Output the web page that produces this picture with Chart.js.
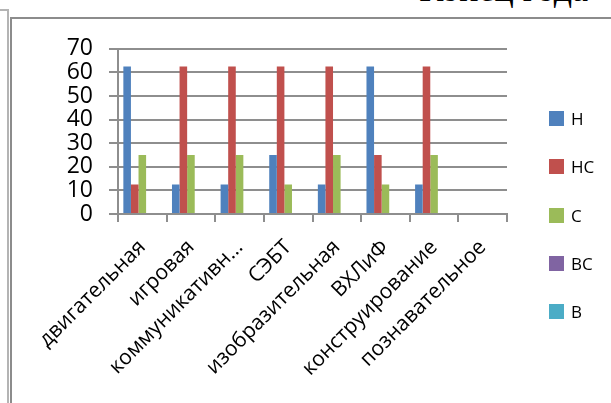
<!DOCTYPE html>
<html>
<head>
<meta charset="utf-8">
<script src="https://cdn.jsdelivr.net/npm/chart.js@4"></script>
<style>
    body { margin: 0; width: 611px; height: 403px; overflow: hidden; background: #fff; position: relative; font-family: 'Open Sans', 'Noto Sans', sans-serif; }
    .frame-out { position: absolute; left: 7px; top: 10px; width: 2px; height: 400px; background: #b4b4b4; }
    .frame-out-top { position: absolute; left: 0; top: 9px; width: 9px; height: 2px; background: #b4b4b4; }
    .frame-in { position: absolute; left: 10px; top: 17px; right: 0; bottom: -5px; border-left: 2px solid #8c8c8c; border-top: 2px solid #8c8c8c; }
    .heading { position: absolute; right: 23px; top: -29px; font: 36px/1 'Liberation Serif', 'DejaVu Serif', serif; color: #000; white-space: nowrap; }
    #wrap { position: absolute; left: 12px; top: 19px; width: 599px; height: 384px; }
    #legend { position: absolute; left: 549px; top: 111px; }
    .item { position: absolute; left: 0; height: 15px; white-space: nowrap; }
    .item span.box { position: absolute; left: 0; top: 0; width: 15px; height: 15px; }
    .item span.txt { position: absolute; left: 22px; top: -4px; font: 17px 'Open Sans', 'Noto Sans', sans-serif; color: #000; }
</style>
</head>
<body>
<div class="heading">Конец года</div>
<div class="frame-out-top"></div>
<div class="frame-out"></div>
<div class="frame-in"></div>
<div id="wrap"><canvas id="chart"></canvas></div>
<div id="legend"></div>
<script>
const categories = ['двигательная', 'игровая', 'коммуникативн…', 'СЭБТ', 'изобразительная', 'ВХЛиФ', 'конструирование', 'познавательное'];
const seriesNames = ['Н', 'НС', 'С', 'ВС', 'В'];
const valuesN  = [62.5, 12.5, 12.5, 25, 12.5, 62.5, 12.5, null];
const valuesNS = [12.5, 62.5, 62.5, 62.5, 62.5, 25, 62.5, null];
const valuesS  = [25, 25, 25, 12.5, 25, 12.5, 25, null];
const valuesVS = [null, null, null, null, null, null, null, null];
const valuesV  = [null, null, null, null, null, null, null, null];
const yTicks = [0, 10, 20, 30, 40, 50, 60, 70];

const colors = ['#4F81BD', '#C0504D', '#9BBB59', '#8064A2', '#4BACC6'];
const gridColor = '#8e8e8e';

(function () {
    const ctx = document.getElementById('chart');
    const allValues = [valuesN, valuesNS, valuesS, valuesVS, valuesV];
    const myChart = new Chart(ctx, {
        type: 'bar',
        data: {
            labels: categories,
            datasets: seriesNames.map((name, i) => ({
                label: name,
                data: allValues[i],
                backgroundColor: colors[i],
                categoryPercentage: 0.78,
                barPercentage: 1,
            }))
        },
        options: {
            responsive: true,
            maintainAspectRatio: false,
            animation: false,
            layout: {
                padding: { top: 29, right: 104, bottom: 0, left: 0 }
            },
            scales: {
                x: {
                    offset: true,
                    grid: {
                        offset: true,
                        drawOnChartArea: false,
                        color: gridColor,
                        lineWidth: 2,
                        tickLength: 8,
                    },
                    border: { color: gridColor, width: 2 },
                    ticks: {
                        autoSkip: false,
                        maxRotation: 45,
                        minRotation: 45,
                        color: '#000',
                        padding: 13,
                        font: { family: 'Open Sans', size: 21 },
                    },
                    afterFit: (scale) => { scale.height = 189; }
                },
                y: {
                    min: yTicks[0],
                    max: yTicks[yTicks.length - 1],
                    afterBuildTicks: (scale) => { scale.ticks = yTicks.map(v => ({ value: v })); },
                    grid: {
                        color: gridColor,
                        lineWidth: 2,
                        tickLength: 9,
                    },
                    border: { color: gridColor, width: 2 },
                    ticks: {
                        autoSkip: false,
                        stepSize: 10,
                        color: '#000',
                        padding: 16,
                        font: { family: 'Open Sans', size: 23 },
                    },
                    afterFit: (scale) => { scale.width = 106; }
                }
            },
            plugins: {
                legend: { display: false },
                tooltip: { enabled: false },
            },
        }
    });

    // legend next to the plot, built from the datasets
    const legend = document.getElementById('legend');
    myChart.data.datasets.forEach((ds, i) => {
        const item = document.createElement('div');
        item.className = 'item';
        item.style.top = (i * 48.3) + 'px';
        item.innerHTML = '<span class="box" style="background:' + ds.backgroundColor + '"></span><span class="txt">' + ds.label + '</span>';
        legend.appendChild(item);
    });
})();
</script>
</body>
</html>
